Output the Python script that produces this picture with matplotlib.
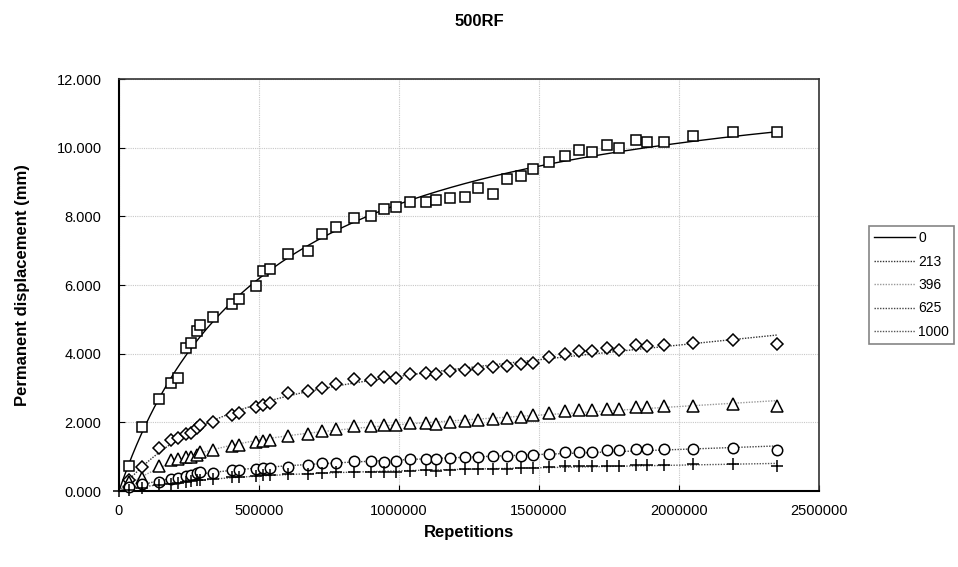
import numpy as np
import matplotlib.pyplot as plt

plt.rcParams['font.family'] = ['Liberation Sans', 'DejaVu Sans']

# repetitions shared by all series
reps = np.array([35700, 81000, 141800, 187500, 209600, 240400, 258900, 279600, 289300,
                 336800, 404600, 429600, 488200, 515400, 540400, 603600, 676000, 724000,
                 774000, 839000, 899000, 947500, 988000, 1039000, 1097500, 1132000,
                 1181000, 1236000, 1281000, 1336000, 1385000, 1436000, 1477000, 1536000,
                 1593000, 1644000, 1690000, 1744000, 1787000, 1846000, 1885000, 1946000,
                 2050000, 2193000, 2350000])

disp_0 = [0.74, 1.86, 2.69, 3.15, 3.29, 4.16, 4.30, 4.65, 4.83, 5.06, 5.46, 5.60, 5.97,
          6.41, 6.46, 6.90, 6.98, 7.49, 7.70, 7.94, 8.01, 8.21, 8.27, 8.41, 8.41, 8.47,
          8.54, 8.56, 8.84, 8.64, 9.10, 9.18, 9.37, 9.59, 9.75, 9.93, 9.88, 10.07, 9.99,
          10.23, 10.16, 10.17, 10.34, 10.46, 10.47]
disp_213 = [0.32, 0.71, 1.24, 1.49, 1.53, 1.66, 1.68, 1.83, 1.92, 2.02, 2.20, 2.28, 2.44,
            2.51, 2.56, 2.85, 2.91, 2.99, 3.12, 3.25, 3.23, 3.31, 3.30, 3.40, 3.45, 3.40,
            3.49, 3.53, 3.55, 3.60, 3.64, 3.69, 3.73, 3.91, 4.00, 4.08, 4.08, 4.16, 4.10,
            4.24, 4.21, 4.25, 4.32, 4.40, 4.27]
disp_396 = [0.26, 0.39, 0.74, 0.89, 0.92, 0.98, 1.00, 1.05, 1.14, 1.19, 1.32, 1.34, 1.43,
            1.45, 1.49, 1.60, 1.67, 1.75, 1.81, 1.88, 1.89, 1.92, 1.91, 1.97, 1.97, 1.94,
            2.00, 2.03, 2.07, 2.10, 2.12, 2.16, 2.20, 2.26, 2.33, 2.35, 2.36, 2.40, 2.38,
            2.44, 2.44, 2.47, 2.48, 2.53, 2.47]
disp_625 = [0.12, 0.20, 0.26, 0.36, 0.39, 0.44, 0.48, 0.52, 0.55, 0.53, 0.61, 0.61, 0.63,
            0.68, 0.68, 0.70, 0.76, 0.82, 0.83, 0.87, 0.87, 0.85, 0.88, 0.92, 0.94, 0.92,
            0.95, 0.98, 0.99, 1.01, 1.02, 1.03, 1.06, 1.08, 1.13, 1.13, 1.13, 1.19, 1.19,
            1.21, 1.21, 1.22, 1.23, 1.25, 1.19]
disp_1000 = [0.04, 0.09, 0.17, 0.20, 0.23, 0.27, 0.29, 0.31, 0.32, 0.36, 0.41, 0.42, 0.44,
             0.47, 0.47, 0.50, 0.51, 0.52, 0.54, 0.54, 0.56, 0.56, 0.56, 0.59, 0.60, 0.58,
             0.60, 0.63, 0.63, 0.64, 0.65, 0.66, 0.68, 0.69, 0.72, 0.72, 0.72, 0.74, 0.74,
             0.75, 0.75, 0.76, 0.78, 0.78, 0.74]

labels = ['0', '213', '396', '625', '1000']
series = [disp_0, disp_213, disp_396, disp_625, disp_1000]
markers = ['s', 'D', '^', 'o', '+']
msizes = [7.5, 6, 8.5, 7.5, 8.5]
trend_kind = ['hyper', 'wolff', 'wolff', 'wolff', 'wolff']
line_styles = ['-', (0, (1, 1)), (0, (1, 1)), (0, (1, 1)), (0, (1, 1))]
line_colors = ['black', '#333333', '#999999', '#444444', '#555555']


def fit_trend(x, y, kind):
    # least squares fit, nonlinear parameter b by grid search
    xm = x / 1e6
    best = (np.inf, None, None)
    for b in np.linspace(0.02, 20, 2500):
        if kind == 'hyper':       # y = a*x/(b+x)
            A = (xm / (b + xm))[:, None]
        else:                     # y = a*(1-exp(-b*x)) + c*x
            A = np.column_stack([1 - np.exp(-b * xm), xm])
        coef, *_ = np.linalg.lstsq(A, y, rcond=None)
        err = ((A @ coef - y) ** 2).sum()
        if err < best[0]:
            best = (err, b, coef)
    _, b, coef = best
    if kind == 'hyper':
        return lambda t: coef[0] * (t / 1e6) / (b + t / 1e6)
    return lambda t: coef[0] * (1 - np.exp(-b * t / 1e6)) + coef[1] * t / 1e6


fig = plt.figure(figsize=(9.58, 5.67), dpi=100)
ax = fig.add_axes([0.1242, 0.134, 0.7307, 0.7266])

xs = np.linspace(0, reps.max(), 300)
handles = []
for lab, y, m, ms, kind, ls, lc in zip(labels, series, markers, msizes, trend_kind,
                                       line_styles, line_colors):
    y = np.array(y)
    x = reps
    if lab == '1000':
        x = np.concatenate([[0], reps])
        y = np.concatenate([[0.0], y])
    if m == '+':
        ax.plot(x, y, linestyle='none', marker=m, ms=ms, mec='black', mew=1.1,
                zorder=3, clip_on=False)
    else:
        ax.plot(x, y, linestyle='none', marker=m, ms=ms, mfc='white', mec='black',
                mew=1.1, zorder=3, clip_on=False)
    trend = fit_trend(x.astype(float), y, kind)
    h, = ax.plot(xs, trend(xs), linestyle=ls, color=lc, lw=1.0, zorder=2, label=lab)
    handles.append(h)

ax.set_xlim(0, 2500000)
ax.set_ylim(0, 12)
ax.set_xticks(np.arange(0, 2500001, 500000))
ax.set_xticklabels([str(v) for v in range(0, 2500001, 500000)])
ax.set_yticks(np.arange(0, 12.1, 2))
ax.set_yticklabels([f'{v:.3f}' for v in np.arange(0, 12.1, 2)])
ax.tick_params(direction='in', length=4, labelsize=10.5, color='black')
ax.tick_params(axis='y', pad=12.5)
ax.tick_params(axis='x', pad=9.5)
ax.grid(True, color='#c8c8c8', linestyle=(0, (1, 1)), lw=0.8)
ax.set_axisbelow(True)
for side in ['top', 'right']:
    ax.spines[side].set_color('#333333')
    ax.spines[side].set_linewidth(1.2)
for side in ['left', 'bottom']:
    ax.spines[side].set_color('black')
    ax.spines[side].set_linewidth(1.5)

ax.set_xlabel('Repetitions', fontsize=12, fontweight='bold', labelpad=5)
ax.set_ylabel('Permanent displacement (mm)', fontsize=12, fontweight='bold', labelpad=19)
fig.text(0.5, 0.962, '500RF', ha='center', va='center', fontsize=12, fontweight='bold')

leg = fig.legend(handles=handles, loc='upper left', bbox_to_anchor=(0.907, 0.601),
                 fontsize=10, frameon=True, fancybox=False, borderpad=0.35,
                 labelspacing=0.68, handlelength=3.0, handletextpad=0.2,
                 borderaxespad=0)
leg.get_frame().set_edgecolor('#666666')
leg.get_frame().set_linewidth(1.2)

fig.savefig('out.png', dpi=100)
